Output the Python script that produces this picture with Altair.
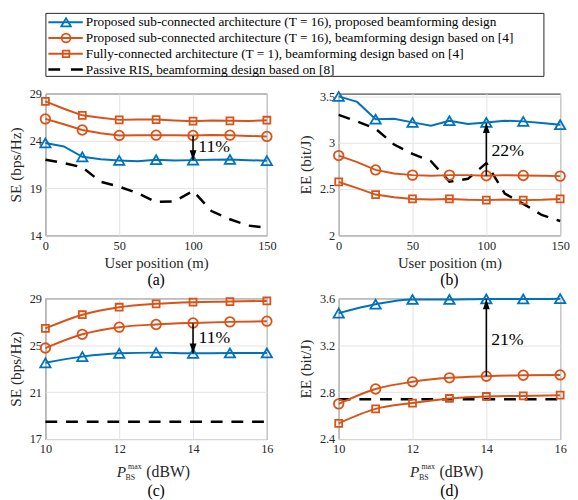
import altair as alt
import pandas as pd

FONT = "'Liberation Serif', 'Times New Roman', 'DejaVu Serif', serif"
BLUE = "#0072BD"
ORANGE = "#D95319"
TXT = "#262626"

# ---------------- data ----------------
pos = [0, 12.5, 25, 37.5, 50, 62.5, 75, 87.5, 100, 112.5, 125, 137.5, 150]
se_pos_tri = [23.78, 23.40, 22.31, 22.05, 21.93, 21.85, 22.00, 21.92, 21.96, 22.00, 22.03, 21.95, 21.90]
se_pos_cir = [26.32, 25.75, 25.15, 24.80, 24.57, 24.60, 24.60, 24.58, 24.57, 24.62, 24.60, 24.52, 24.47]
se_pos_sq = [28.18, 27.40, 26.70, 26.45, 26.22, 26.25, 26.25, 26.15, 26.08, 26.15, 26.12, 26.10, 26.18]
se_pos_pas = [22.00, 21.65, 21.20, 19.66, 19.15, 18.46, 17.53, 17.60, 18.70, 16.57, 15.70, 15.03, 14.80]

ee_pos_tri = [3.500, 3.440, 3.254, 3.258, 3.219, 3.184, 3.237, 3.201, 3.219, 3.237, 3.230, 3.212, 3.194]
ee_pos_cir = [2.861, 2.790, 2.706, 2.667, 2.650, 2.643, 2.650, 2.650, 2.643, 2.650, 2.646, 2.643, 2.639]
ee_pos_sq = [2.576, 2.510, 2.440, 2.410, 2.393, 2.386, 2.393, 2.383, 2.380, 2.386, 2.380, 2.383, 2.393]
ee_pos_pas = [3.300, 3.230, 3.150, 2.980, 2.880, 2.800, 2.580, 2.610, 2.780, 2.450, 2.340, 2.220, 2.155]

pbs = [10, 11, 12, 13, 14, 15, 16]
se_p_tri = [23.50, 24.03, 24.31, 24.37, 24.31, 24.34, 24.34]
se_p_cir = [24.76, 25.93, 26.54, 26.77, 26.90, 26.99, 27.05]
se_p_sq = [26.43, 27.60, 28.24, 28.53, 28.67, 28.72, 28.78]
se_p_pas = [18.48, 18.48, 18.48, 18.48, 18.48, 18.48, 18.48]

ee_p_tri = [3.474, 3.550, 3.590, 3.590, 3.594, 3.594, 3.597]
ee_p_cir = [2.700, 2.827, 2.888, 2.922, 2.936, 2.944, 2.947]
ee_p_sq = [2.534, 2.657, 2.707, 2.746, 2.763, 2.768, 2.774]
ee_p_pas = [2.74, 2.74, 2.74, 2.74, 2.74, 2.74, 2.74]

# arrows: x, from, to ; labels: x, y, text
arrow_a = [100, 24.50, 21.96]
label_a = [103.5, 23.3, "11%"]
arrow_b = [100, 2.643, 3.21]
label_b = [103.5, 2.91, "22%"]
arrow_c = [14, 26.85, 24.31]
label_c = [14.15, 25.6, "11%"]
arrow_d = [14, 2.936, 3.59]
label_d = [14.13, 3.245, "21%"]

legend_labels = [
    "Proposed sub-connected architecture (T = 16), proposed beamforming design",
    "Proposed sub-connected architecture (T = 16), beamforming design based on [4]",
    "Fully-connected architecture (T = 1), beamforming design based on [4]",
    "Passive RIS, beamforming design based on [8]",
]
legend_colors = [BLUE, ORANGE, ORANGE, "black"]
legend_shapes = ["triangle-up", "circle", "square", "circle"]
legend_sizes = [95, 80, 45, 0]

W = 225
H1 = 144
H2 = 143

ARROW_DOWN = "M0,0L-0.35,-1L0.35,-1Z"
ARROW_UP = "M0,0L-0.35,1L0.35,1Z"


def panel(x, tri, cir, sq, pas, xdom, xticks, ydom, yticks, ytitle, xtitle,
          caption, arrow, label, h, marker_step=None, interp="linear", yfmt="~g",
          pbs_title=False, cap_offset=2):
    df = pd.DataFrame({"x": x, "tri": tri, "cir": cir, "sq": sq, "pas": pas})
    X = alt.X("x:Q", scale=alt.Scale(domain=xdom, nice=False, zero=False),
              axis=alt.Axis(values=xticks, title=xtitle if xtitle else None, labelFlush=False))

    def Y(col):
        return alt.Y(f"{col}:Q", scale=alt.Scale(domain=ydom, nice=False, zero=False),
                     axis=alt.Axis(values=yticks, title=ytitle, format=yfmt))

    base = alt.Chart(df)
    layers = [
        base.mark_line(color="black", strokeWidth=2.5, strokeDash=[12, 9], interpolate=interp)
        .encode(x=X, y=Y("pas"))
    ]
    for col, color, shape, size in [("sq", ORANGE, "square", 50),
                                    ("cir", ORANGE, "circle", 95),
                                    ("tri", BLUE, "triangle-up", 110)]:
        layers.append(base.mark_line(color=color, strokeWidth=2, interpolate=interp)
                      .encode(x=X, y=Y(col)))
        pts = base
        if marker_step:
            pts = pts.transform_filter(f"datum.x % {marker_step} == 0")
        layers.append(pts.mark_point(shape=shape, size=size, filled=False, color=color,
                                     strokeWidth=1.8, opacity=1)
                      .encode(x=X, y=Y(col)))

    adf = pd.DataFrame({"x": [arrow[0]], "y0": [arrow[1]], "y1": [arrow[2]]})
    up = arrow[2] > arrow[1]
    layers.append(alt.Chart(adf).mark_rule(color="black", strokeWidth=1.6)
                  .encode(x=X, y=Y("y0"), y2="y1:Q"))
    layers.append(alt.Chart(adf).mark_point(shape=ARROW_UP if up else ARROW_DOWN, size=400,
                                            filled=True, color="black", opacity=1)
                  .encode(x=X, y=Y("y1")))
    ldf = pd.DataFrame({"x": [label[0]], "y": [label[1]], "t": [label[2]]})
    layers.append(alt.Chart(ldf).mark_text(align="left", baseline="middle", font=FONT,
                                           fontSize=18, color="black")
                  .encode(x=X, y=Y("y"), text="t:N"))

    if pbs_title:
        c = W / 2
        layers.append(alt.Chart(pd.DataFrame({"t": ["P"]})).mark_text(
            align="left", baseline="alphabetic", font=FONT, fontSize=15.5, fontStyle="italic", color=TXT)
            .encode(text="t:N", x=alt.value(c - 40), y=alt.value(h + 39)))
        layers.append(alt.Chart(pd.DataFrame({"t": ["max"]})).mark_text(
            align="left", baseline="alphabetic", font=FONT, fontSize=8, color=TXT)
            .encode(text="t:N", x=alt.value(c - 28.5), y=alt.value(h + 30.5)))
        layers.append(alt.Chart(pd.DataFrame({"t": ["BS"]})).mark_text(
            align="left", baseline="alphabetic", font=FONT, fontSize=8, color=TXT)
            .encode(text="t:N", x=alt.value(c - 31), y=alt.value(h + 41.5)))
        layers.append(alt.Chart(pd.DataFrame({"t": ["(dBW)"]})).mark_text(
            align="left", baseline="alphabetic", font=FONT, fontSize=16, color=TXT)
            .encode(text="t:N", x=alt.value(c - 10), y=alt.value(h + 39)))

    return alt.layer(*layers).properties(
        width=W, height=h,
        title=alt.TitleParams(caption, orient="bottom", font=FONT, fontSize=16,
                              fontWeight="normal", color="black", offset=cap_offset,
                              anchor="middle", frame="group"))


pa = panel(pos, se_pos_tri, se_pos_cir, se_pos_sq, se_pos_pas, [0, 150], [0, 50, 100, 150],
           [14, 29], [14, 19, 24, 29], "SE (bps/Hz)", "User position (m)", "(a)",
           arrow_a, label_a, H1, marker_step=25)
pb = panel(pos, ee_pos_tri, ee_pos_cir, ee_pos_sq, ee_pos_pas, [0, 150], [0, 50, 100, 150],
           [2, 3.53], [2, 2.5, 3, 3.5], "EE (bit/J)", "User position (m)", "(b)",
           arrow_b, label_b, H1, marker_step=25)
pc = panel(pbs, se_p_tri, se_p_cir, se_p_sq, se_p_pas, [10, 16], [10, 12, 14, 16],
           [17, 29], [17, 21, 25, 29], "SE (bps/Hz)", None, "(c)",
           arrow_c, label_c, H2, interp="monotone", pbs_title=True, cap_offset=1)
pd_ = panel(pbs, ee_p_tri, ee_p_cir, ee_p_sq, ee_p_pas, [10, 16], [10, 12, 14, 16],
            [2.4, 3.6], [2.4, 2.8, 3.2, 3.6], "EE (bit/J)", None, "(d)",
            arrow_d, label_d, H2, interp="monotone", yfmt=".1f", pbs_title=True, cap_offset=1)

# ---------------- legend ----------------
leg = pd.DataFrame({"idx": [0, 1, 2, 3], "label": legend_labels, "color": legend_colors,
                    "shape": legend_shapes, "size": legend_sizes})
LY = alt.Y("idx:Q", scale=alt.Scale(domain=[-0.6, 3.4], reverse=True), axis=None)
lbase = alt.Chart(leg)
legend = alt.layer(
    lbase.transform_filter("datum.idx < 3").mark_rule(strokeWidth=2)
    .encode(x=alt.value(3), x2=alt.value(38), y=LY, color=alt.Color("color:N", scale=None)),
    lbase.transform_filter("datum.idx == 3").mark_rule(strokeWidth=2.5, strokeDash=[12, 11], color="black")
    .encode(x=alt.value(3), x2=alt.value(38), y=LY),
    lbase.transform_filter("datum.idx < 3").mark_point(filled=False, strokeWidth=1.8, opacity=1)
    .encode(x=alt.value(21), y=LY, color=alt.Color("color:N", scale=None),
            shape=alt.Shape("shape:N", scale=None), size=alt.Size("size:Q", scale=None)),
    lbase.mark_text(align="left", baseline="middle", font=FONT, fontSize=13.5, color="black")
    .encode(x=alt.value(41), y=LY, text="label:N"),
).properties(width=506, height=64)

row1 = alt.hconcat(pa, pb, spacing=21)
row2 = alt.hconcat(pc, pd_, spacing=21)

chart = alt.vconcat(legend, alt.vconcat(row1, row2, spacing=1), spacing=10).properties(
    padding={"left": 0, "top": 0, "right": 0, "bottom": 0}
).configure_view(stroke=TXT, strokeWidth=1).configure_axis(
    labelFont=FONT, labelFontSize=12.5, labelColor=TXT,
    titleFont=FONT, titleFontSize=15, titleColor=TXT, titleFontWeight="normal",
    grid=True, gridColor="#e2e2e2", gridWidth=1, domain=False, ticks=False, tickSize=0,
    labelPadding=4, titlePadding=4,
).configure_axisY(titlePadding=6, titleFontSize=15.5)

chart.save("out.html", embed_options={"renderer": "svg", "actions": False})
